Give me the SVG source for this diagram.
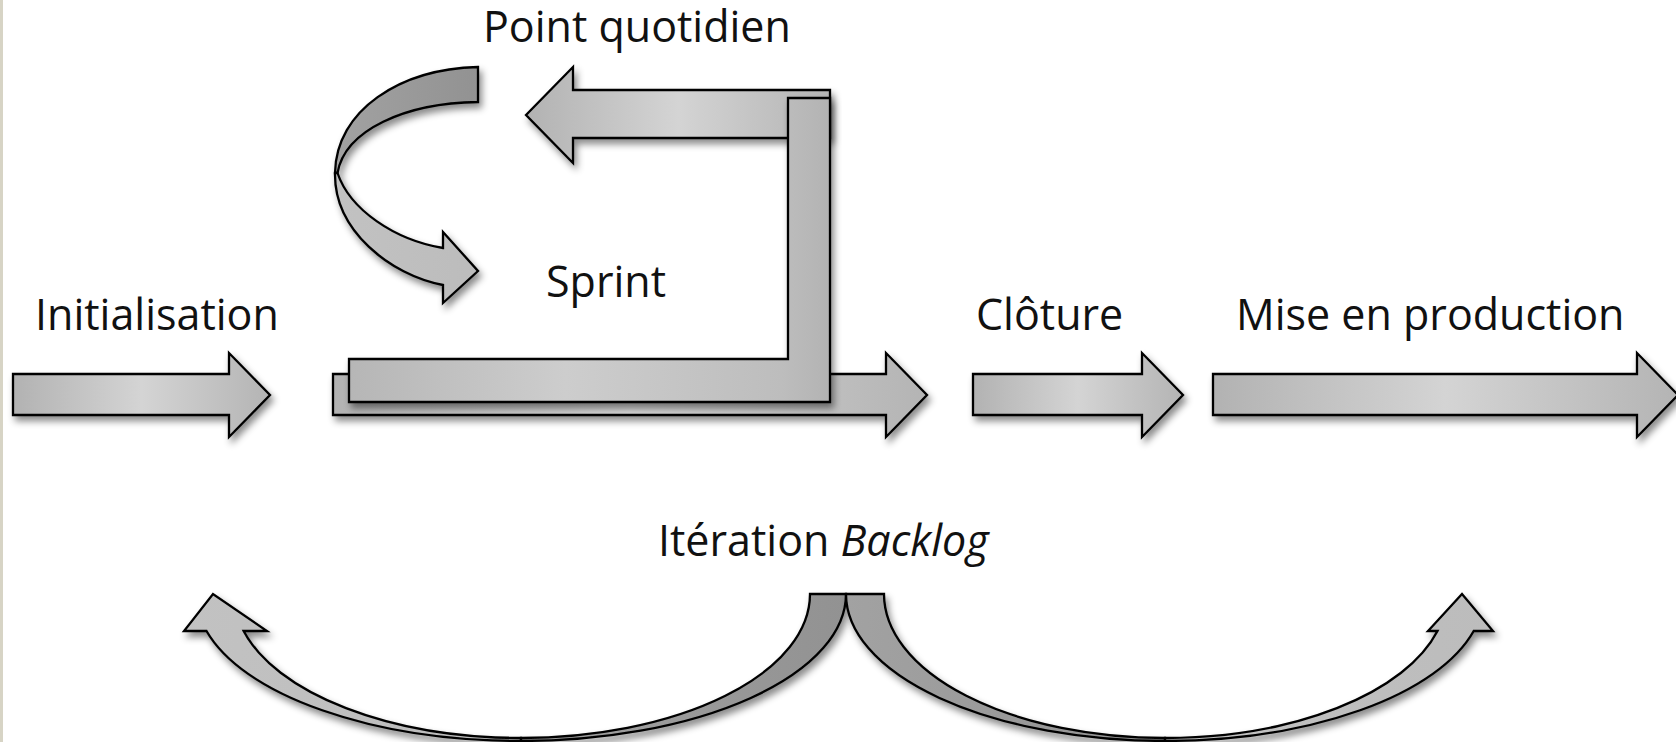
<svg xmlns="http://www.w3.org/2000/svg" width="1676" height="742" viewBox="0 0 1676 742">
  <defs>
    <style>
      .lbl { font-family: "Open Sans", Lato, "Liberation Sans", sans-serif; font-size: 43px; fill: #111; }
      .shape { stroke: #000; stroke-width: 2.3; stroke-linejoin: miter; }
      .block { fill: url(#barFill); }
      .back { fill: url(#backFill); }
      .front { fill: url(#frontFill); }
    </style>
    <linearGradient id="barFill" x1="0" y1="0" x2="1" y2="0">
      <stop offset="0" stop-color="#b2b2b2"/>
      <stop offset="0.5" stop-color="#d4d4d4"/>
      <stop offset="1" stop-color="#b4b4b4"/>
    </linearGradient>
    <linearGradient id="lFill" x1="0" y1="0" x2="1" y2="0">
      <stop offset="0" stop-color="#b6b6b6"/>
      <stop offset="0.45" stop-color="#cdcdcd"/>
      <stop offset="0.9" stop-color="#bdbdbd"/>
      <stop offset="1" stop-color="#b3b3b3"/>
    </linearGradient>
    <linearGradient id="backFill" x1="0" y1="0" x2="1" y2="0">
      <stop offset="0" stop-color="#a2a2a2"/>
      <stop offset="1" stop-color="#929292"/>
    </linearGradient>
    <linearGradient id="frontFill" x1="0" y1="0" x2="1" y2="0">
      <stop offset="0" stop-color="#c2c2c2"/>
      <stop offset="1" stop-color="#bcbcbc"/>
    </linearGradient>
    <filter id="shadow" x="-10%" y="-20%" width="125%" height="160%">
      <feDropShadow dx="3" dy="5" stdDeviation="3.5" flood-color="#000" flood-opacity="0.45"/>
    </filter>
  </defs>

  <rect width="1676" height="742" fill="#ffffff"/>
  <!-- paper edge on the left -->
  <rect x="0" y="0" width="3" height="742" fill="#d7d4c5"/>

  <!-- phase: initialisation -->
  <g id="initialisation">
    <text class="lbl" x="35" y="330">Initialisation</text>
    <polygon class="shape block" filter="url(#shadow)" points="13,374 229,374 229,353 270,395 229,437 229,415 13,415"/>
  </g>

  <!-- phase: sprint (base arrow, daily loop, L-shaped return) -->
  <g id="sprint">
    <text class="lbl" x="546" y="297">Sprint</text>
    <polygon class="shape block" filter="url(#shadow)" points="333,374 886,374 886,353 927,395 886,437 886,415 333,415"/>
  </g>

  <g id="point-quotidien">
    <text class="lbl" x="483" y="42">Point quotidien</text>
    <polygon class="shape block" filter="url(#shadow)" points="526,115 573,67 573,90 830,90 830,138 573,138 573,163"/>
    <polygon class="shape" fill="url(#lFill)" filter="url(#shadow)" points="349,359 788,359 788,98 830,98 830,402 349,402"/>
  </g>

  <!-- phase: cloture -->
  <g id="cloture">
    <text class="lbl" x="976" y="330">Clôture</text>
    <polygon class="shape block" filter="url(#shadow)" points="973,374 1142,374 1142,353 1183,395 1142,437 1142,415 973,415"/>
  </g>

  <!-- phase: mise en production -->
  <g id="mise-en-production">
    <text class="lbl" x="1236" y="330">Mise en production</text>
    <polygon class="shape block" filter="url(#shadow)" points="1213,374 1637,374 1637,353 1678,395 1637,437 1637,415 1213,415"/>
  </g>

  <g id="iteration-backlog">
    <text class="lbl" x="658" y="556">Itération <tspan font-style="italic">Backlog</tspan></text>
  </g>

  <!-- curved loop arrows -->
  <g id="connectors">
    <!-- daily loop: ribbon turning back towards the sprint -->
    <g id="daily-loop" filter="url(#shadow)">
      <path class="shape back" d="M478,67 C400,69 336,110 335,173 L337.5,173 C345,130 405,103 478,102 Z"/>
      <path class="shape front" d="M335,173 C334,230 390,275 443,285 L443,303 L478,271 L443,232 L443,248 C395,240 350,210 337.5,173 Z"/>
    </g>
    <!-- backlog iteration back to initialisation -->
    <g id="iteration-left" filter="url(#shadow)">
      <path class="shape front" d="M206.5,631 A325,147 0 0 0 521,741 L521,738 A287,144 0 0 1 243.6,631 L267,631 L213,594 L184,631 Z"/>
      <path class="shape back" d="M521,741 A325,147 0 0 0 846,594 L810,594 A289,144 0 0 1 521,738 Z"/>
    </g>
    <!-- backlog iteration forward to production -->
    <g id="iteration-right" filter="url(#shadow)">
      <path class="shape back" d="M846,594 A319,147 0 0 0 1165,741 L1165,738 A281,144 0 0 1 884,594 Z"/>
      <path class="shape front" d="M1165,741 A319,147 0 0 0 1473.7,631 L1493,631 L1462,594 L1428,631 L1437.5,631 A282,144 0 0 1 1165,738 Z"/>
    </g>
  </g>
</svg>
